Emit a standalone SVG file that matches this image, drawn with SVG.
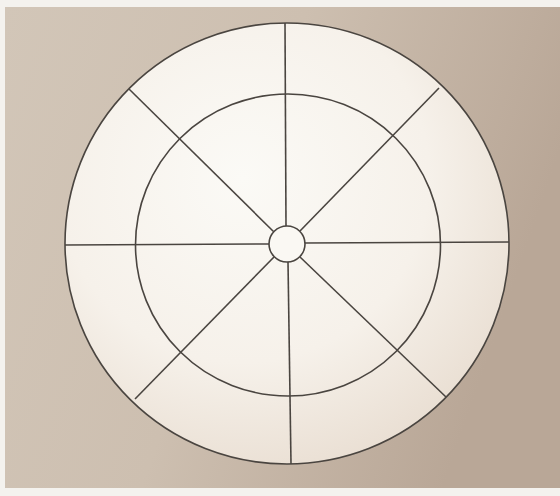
<svg xmlns="http://www.w3.org/2000/svg" width="560" height="496" viewBox="0 0 560 496">
<defs>
<linearGradient id="bg" x1="0" y1="0" x2="1" y2="0.3">
<stop offset="0" stop-color="#d2c6b8"/>
<stop offset="0.5" stop-color="#cdbfb0"/>
<stop offset="1" stop-color="#b9a797"/>
</linearGradient>
<radialGradient id="disc" cx="0.4" cy="0.35" r="0.7">
<stop offset="0" stop-color="#fbfaf6"/>
<stop offset="0.6" stop-color="#f6f1ea"/>
<stop offset="1" stop-color="#e9ded2"/>
</radialGradient>
<style>
.ln{stroke:#4a4540;stroke-width:1.6;fill:none}
</style>
</defs>
<rect width="560" height="496" fill="#f4f2ee"/>
<rect x="5" y="7" width="555" height="481" fill="url(#bg)"/>
<g id="outer">
<ellipse cx="287" cy="243.5" rx="222" ry="220.5" fill="url(#disc)" class="ln" style="fill:url(#disc)"/>
</g>
<g id="inner">
<ellipse cx="288" cy="245" rx="152.5" ry="151" class="ln"/>
</g>
<g id="connectors" class="ln">
<line x1="286" y1="226" x2="285" y2="23"/>
<line x1="288" y1="262" x2="291" y2="464"/>
<line x1="269" y1="244" x2="65" y2="245"/>
<line x1="305" y1="243" x2="509" y2="242"/>
<line x1="274" y1="232" x2="129" y2="89"/>
<line x1="300" y1="231" x2="439" y2="88"/>
<line x1="274" y1="257" x2="135" y2="399"/>
<line x1="300" y1="257" x2="446" y2="397"/>
</g>
<g id="hub">
<circle cx="287" cy="244" r="18" fill="#faf8f3" class="ln" style="fill:#faf8f3"/>
</g>
</svg>
